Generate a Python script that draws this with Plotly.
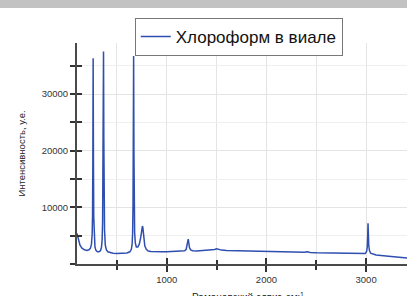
import plotly.graph_objects as go

# Raman shift (cm^-1) and intensity (a.u.)
shift = [100, 115, 130, 150, 175, 200, 220, 235, 245, 252, 256, 259, 262, 265, 268, 272, 280, 290,
         305, 320, 335, 345, 352, 357, 360, 363, 366, 369, 372, 376, 384, 395, 410, 430, 460, 500,
         550, 600, 630, 645, 653, 658, 662, 665, 668, 671, 674, 678, 685, 695, 710, 725, 740, 750,
         756, 760, 764, 770, 780, 795, 815, 840, 880, 950, 1000, 1050, 1100, 1150, 1180, 1195, 1205,
         1211, 1216, 1221, 1228, 1240, 1260, 1300, 1350, 1400, 1450, 1480, 1500, 1520, 1550, 1600,
         1700, 1800, 1900, 2000, 2100, 2200, 2300, 2380, 2410, 2440, 2500, 2600, 2700, 2800, 2900,
         2960, 2990, 3005, 3012, 3016, 3019, 3022, 3026, 3033, 3045, 3070, 3100, 3200, 3300, 3410]
intensity = [5400, 4100, 3300, 2800, 2500, 2400, 2500, 2800, 3500, 5200, 8500, 18000, 36300, 18000,
             8300, 4800, 3000, 2400, 2150, 2150, 2350, 2900, 4200, 7500, 13000, 24000, 37500, 22000,
             11000, 6000, 3300, 2500, 2150, 2000, 1900, 1870, 1870, 1950, 2150, 2600, 3500, 5500,
             10500, 21000, 36700, 20000, 10000, 5600, 3700, 3000, 3000, 3500, 4800, 6300, 6700, 6500,
             5800, 4500, 3200, 2600, 2300, 2200, 2150, 2150, 2150, 2200, 2250, 2250, 2350, 2600, 3200,
             4000, 4400, 3700, 2900, 2500, 2350, 2300, 2350, 2400, 2450, 2550, 2700, 2600, 2450, 2400,
             2350, 2350, 2300, 2280, 2250, 2200, 2150, 2080, 2150, 2050, 2000, 1950, 1900, 1850, 1800,
             1750, 1850, 2200, 3100, 5000, 7200, 5600, 3400, 2400, 1900, 1700, 1600, 1400, 1200, 1050]

y_tick_values = [10000, 20000, 30000]
x_tick_values = [1000, 2000, 3000]

series_name = "Хлороформ в виале"
x_title = "Рамановский сдвиг, см<sup>-1</sup>"
y_title = "Интенсивность, у.е."
x_range = [100, 3410]
y_range = [0, 39000]

line_color = "#2f4fb0"
axis_color = "#4a4a4a"
grid_color = "#e4e4e4"
font_family = "Liberation Sans, Arial, sans-serif"

fig = go.Figure()
fig.add_trace(go.Scatter(x=shift, y=intensity, mode="lines", name=series_name,
                         line=dict(color=line_color, width=1.5)))
# invisible copy on the overlay axes (carries the inward half of the tick marks)
fig.add_trace(go.Scatter(x=shift, y=intensity, mode="lines", xaxis="x2", yaxis="y2",
                         line=dict(color="rgba(0,0,0,0)", width=0), showlegend=False,
                         hoverinfo="skip"))

tick_font = dict(family=font_family, size=9.5, color="#333333")

fig.update_layout(
    width=407, height=296,
    margin=dict(l=77, r=0, t=43, b=32, autoexpand=False),
    paper_bgcolor="white", plot_bgcolor="white",
    font=dict(family=font_family, color="#333333"),
    showlegend=True,
    legend=dict(x=0.175, y=1.113, xanchor="left", yanchor="top",
                bgcolor="white", bordercolor="#777777", borderwidth=1,
                font=dict(family=font_family, size=17, color="#111111"),
                itemwidth=30),
    xaxis=dict(range=x_range, tickmode="array", tickvals=x_tick_values, showgrid=True,
               gridcolor=grid_color, automargin=False,
               gridwidth=1, zeroline=False, showline=True, linecolor=axis_color, linewidth=2,
               ticks="outside", ticklen=6, tickwidth=1.5, tickcolor="#333333",
               minor=dict(dtick=500, tick0=0, ticks="outside", ticklen=4, tickwidth=1.5,
                          tickcolor="#333333", showgrid=True, gridcolor=grid_color),
               tickfont=tick_font),
    yaxis=dict(range=y_range, tickmode="array", tickvals=y_tick_values, tickformat="d",
               showgrid=True, gridcolor=grid_color, automargin=False,
               gridwidth=1, zeroline=False, showline=True, linecolor=axis_color, linewidth=2,
               ticks="outside", ticklen=5, tickwidth=1.5, tickcolor="#333333",
               minor=dict(dtick=5000, tick0=0, ticks="outside", ticklen=5, tickwidth=1.5,
                          tickcolor="#333333", showgrid=True, gridcolor="#efefef"),
               tickfont=tick_font,
               title=dict(text=y_title, font=dict(family=font_family, size=9.5, color="#222222"),
                          standoff=14)),
    xaxis2=dict(range=x_range, overlaying="x", anchor="y2", side="bottom", tickmode="array",
                tickvals=x_tick_values, automargin=False,
                showgrid=False, zeroline=False, showline=False, showticklabels=False,
                ticks="inside", ticklen=6, tickwidth=1.5, tickcolor="#333333",
                minor=dict(dtick=500, tick0=0, ticks="inside", ticklen=4, tickwidth=1.5,
                           tickcolor="#333333", showgrid=False)),
    yaxis2=dict(range=y_range, overlaying="y", anchor="x2", side="left", tickmode="array",
                tickvals=y_tick_values, automargin=False,
                showgrid=False, zeroline=False, showline=False, showticklabels=False,
                ticks="inside", ticklen=5, tickwidth=1.5, tickcolor="#333333",
                minor=dict(dtick=5000, tick0=0, ticks="inside", ticklen=5, tickwidth=1.5,
                           tickcolor="#333333", showgrid=False)),
    annotations=[dict(text=x_title, xref="paper", yref="paper", x=0.519, y=-0.113,
                      xanchor="center", yanchor="top", showarrow=False,
                      font=dict(family=font_family, size=10, color="#222222"))],
    shapes=[dict(type="rect", xref="paper", yref="paper", ysizemode="pixel", yanchor=1.0,
                 x0=-0.3, x1=1.05, y0=35, y1=60, fillcolor="#c2c2c2",
                 line=dict(width=0), layer="above")],
)

fig.write_html("out.html", config={"displayModeBar": False},
               post_script="document.body.style.margin='0';document.body.style.overflow='hidden';")
